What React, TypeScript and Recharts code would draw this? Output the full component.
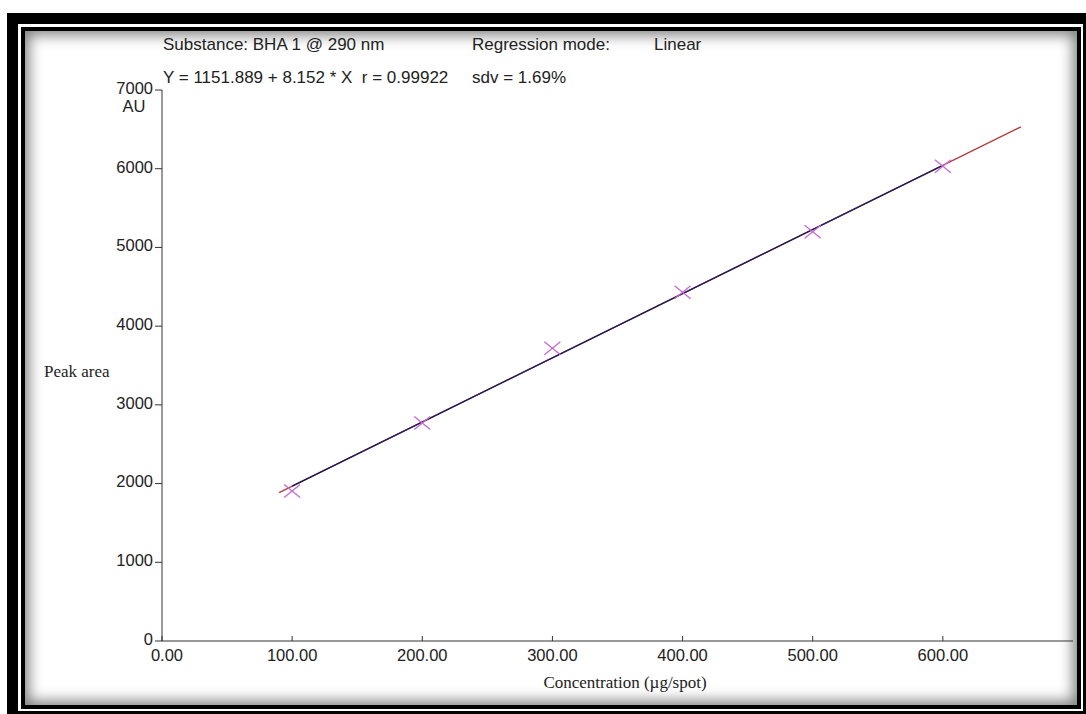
import React from 'react';
import { ComposedChart, XAxis, YAxis, Scatter, Line } from 'recharts';

// Calibration standards: concentration (µg/spot) and measured peak area (AU)
const concentrations = [100, 200, 300, 400, 500, 600];
const peakAreas = [1905, 2770, 3720, 4430, 5200, 6030];

// Axis ticks
const xTicks = [0, 100, 200, 300, 400, 500, 600];
const yTicks = [0, 1000, 2000, 3000, 4000, 5000, 6000, 7000];

// Regression result: Y = intercept + slope * X
const intercept = 1151.889;
const slope = 8.152;
const rValue = '0.99922';
const sdvValue = '1.69%';

// Fitted line spans: extrapolated (red) and calibrated (navy)
const extrapolatedRange = [90, 660];
const calibratedRange = [100, 600];

const fitLine = (range: number[]) => range.map((x) => ({ x, y: intercept + slope * x }));

const points = concentrations.map((x, i) => ({ x, y: peakAreas[i] }));

const SANS = '"Liberation Sans", Arial, sans-serif';
const SERIF = '"Liberation Serif", "Times New Roman", serif';
const TEXT = '#222';

const Cross = (props: any) => {
  const { cx, cy } = props;
  if (cx == null || cy == null) return null;
  const w = 8;
  const h = 6.5;
  return (
    <g stroke="#c46ad6" strokeWidth={1.3} fill="none">
      <line x1={cx - w} y1={cy - h} x2={cx + w} y2={cy + h} />
      <line x1={cx - w} y1={cy + h} x2={cx + w} y2={cy - h} />
    </g>
  );
};

// Concentration tick label; the origin label sits a little to the right of its tick
const XTick = (props: any) => {
  const { x, y, payload } = props;
  const shift = payload.value === 0 ? 5 : 0;
  return (
    <text
      x={x + shift}
      y={y}
      dy="0.71em"
      textAnchor="middle"
      fill={TEXT}
      fontSize={16.5}
      fontFamily={SANS}
    >
      {Number(payload.value).toFixed(2)}
    </text>
  );
};

const YTick = (props: any) => {
  const { x, y, payload } = props;
  return (
    <text
      x={x}
      y={y - 2}
      dy="0.355em"
      textAnchor="end"
      fill={TEXT}
      fontSize={16.5}
      fontFamily={SANS}
    >
      {payload.value}
    </text>
  );
};

export default function App() {
  return (
    <div
      style={{
        position: 'fixed',
        left: 0,
        top: 0,
        width: 1086,
        height: 714,
        overflow: 'hidden',
        background: '#fff',
      }}
    >
      {/* double frame with inner shading */}
      <div style={{ position: 'absolute', left: 7, top: 13, width: 1100, height: 720, background: '#000' }} />
      <div style={{ position: 'absolute', left: 18, top: 24, width: 1065, height: 687, background: '#fff' }} />
      <div
        style={{
          position: 'absolute',
          left: 21,
          top: 27,
          width: 1060,
          height: 682,
          boxSizing: 'border-box',
          border: '4px solid #000',
          background: '#fff',
          boxShadow: 'inset 0 0 14px 4px rgba(0,0,0,0.5)',
        }}
      />

      <div style={{ position: 'absolute', left: 0, top: 0 }}>
        <ComposedChart
          width={1086}
          height={714}
          margin={{ top: 90, right: 13, bottom: 43, left: 102 }}
        >
          <XAxis
            xAxisId={0}
            type="number"
            dataKey="x"
            domain={[0, 700]}
            ticks={xTicks}
            interval={0}
            allowDataOverflow
            height={30}
            tickSize={-5}
            tickMargin={13}
            axisLine={{ stroke: '#333' }}
            tickLine={{ stroke: '#333' }}
            tick={<XTick />}
          />
          <YAxis
            yAxisId={0}
            type="number"
            dataKey="y"
            domain={[0, 7000]}
            ticks={yTicks}
            interval={0}
            allowDataOverflow
            width={60}
            tickSize={7}
            tickMargin={2}
            axisLine={{ stroke: '#333' }}
            tickLine={{ stroke: '#333' }}
            tick={<YTick />}
          />
          <Line
            data={fitLine(extrapolatedRange)}
            dataKey="y"
            type="linear"
            stroke="#b53a3a"
            strokeWidth={1.4}
            dot={false}
            activeDot={false}
            isAnimationActive={false}
          />
          <Line
            data={fitLine(calibratedRange)}
            dataKey="y"
            type="linear"
            stroke="#1c1c5a"
            strokeWidth={1.5}
            dot={false}
            activeDot={false}
            isAnimationActive={false}
          />
          <Scatter data={points} dataKey="y" shape={<Cross />} isAnimationActive={false} />
        </ComposedChart>
      </div>

      {/* header, units and axis titles */}
      <svg
        width={1086}
        height={714}
        style={{ position: 'absolute', left: 0, top: 0, pointerEvents: 'none' }}
      >
        <g fill={TEXT} fontFamily={SANS} fontSize={17}>
          <text x={163} y={50}>Substance: BHA 1 @ 290 nm</text>
          <text x={472} y={50}>Regression mode:</text>
          <text x={654} y={50}>Linear</text>
          <text x={163} y={83} style={{ whiteSpace: 'pre' }}>
            {`Y = ${intercept} + ${slope} * X  r = ${rValue}`}
          </text>
          <text x={472} y={83}>{`sdv = ${sdvValue}`}</text>
          <text x={134} y={112} fontSize={16.5} textAnchor="middle">AU</text>
        </g>
        <g fill={TEXT} fontFamily={SERIF} fontSize={17}>
          <text x={44} y={377}>Peak area</text>
          <text x={625} y={688} textAnchor="middle">Concentration (µg/spot)</text>
        </g>
      </svg>
    </div>
  );
}
